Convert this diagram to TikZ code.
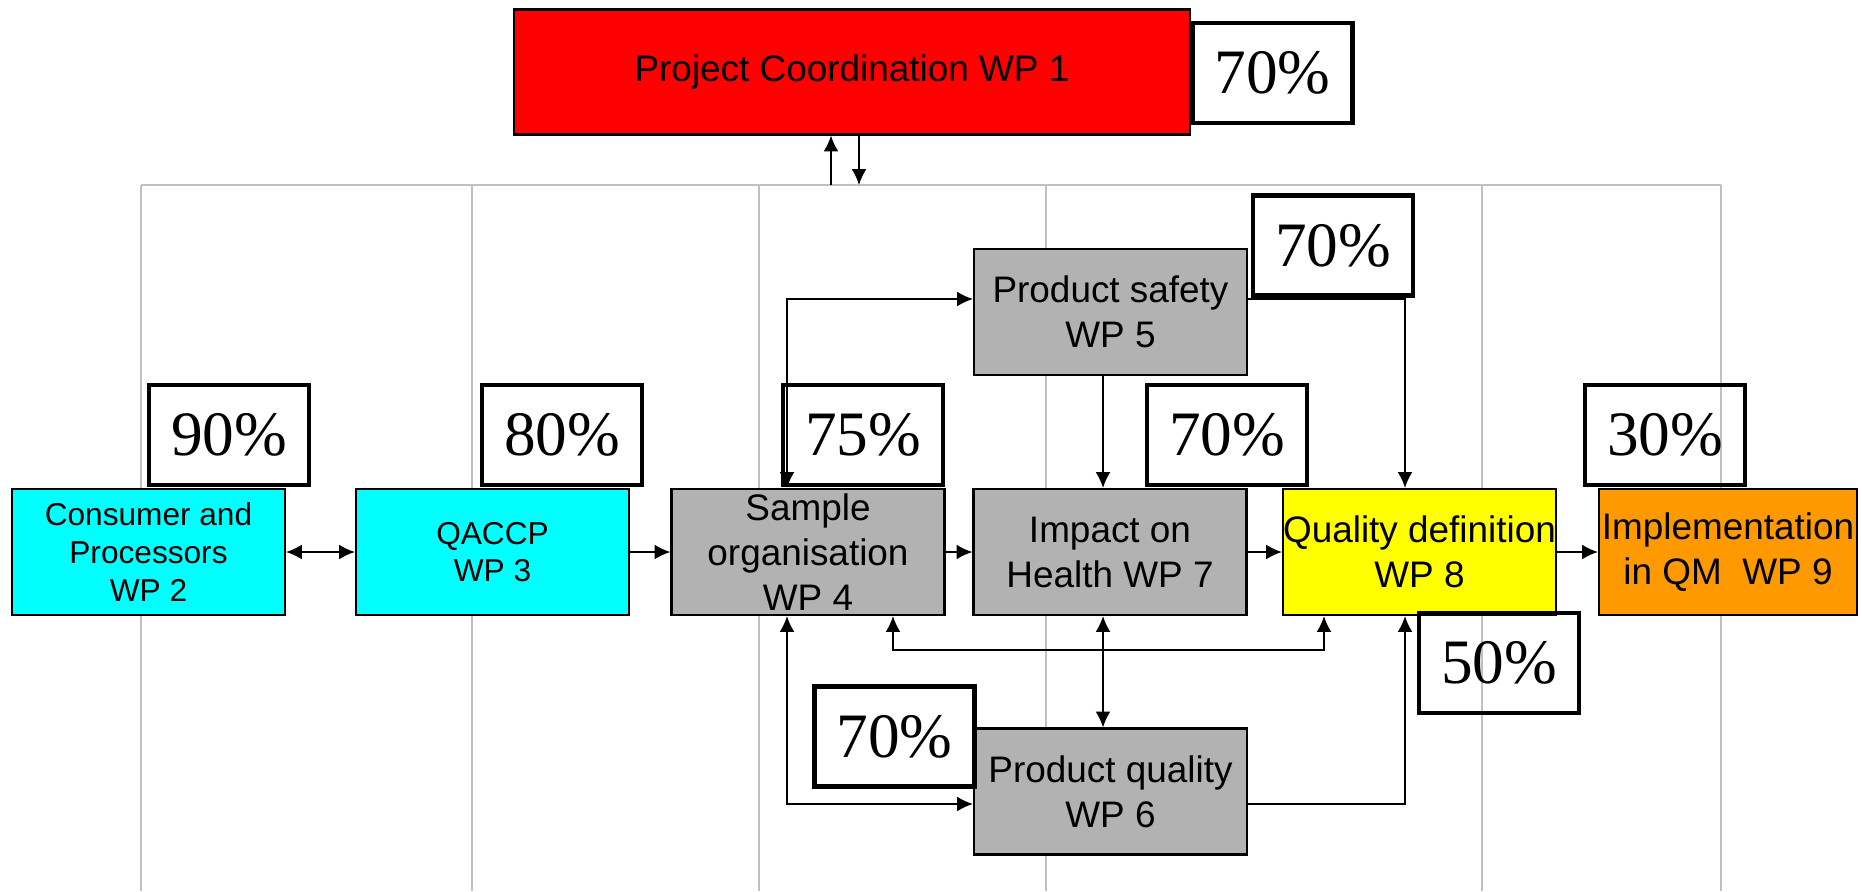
\documentclass[tikz,border=0pt]{standalone}
\usepackage{fontspec}
\setmainfont{Liberation Serif}
\newfontfamily\boxfont{Liberation Sans}
\usetikzlibrary{arrows.meta}
\definecolor{wpred}{RGB}{255,0,0}
\definecolor{wpcyan}{RGB}{0,255,255}
\definecolor{wpyellow}{RGB}{255,255,0}
\definecolor{wpgrey}{RGB}{178,178,178}
\definecolor{wporange}{RGB}{255,153,0}
\definecolor{lanegrey}{RGB}{192,192,192}

\begin{document}
\begin{tikzpicture}[>={Latex[length=4.5pt,width=4.2pt]},line width=0.45pt]
	\tikzstyle{box}=[rectangle,draw=black,line width=0.6pt,
	minimum width=2.73cm,minimum height=1.26cm,
	inner sep=0pt,align=center,
	font=\boxfont\fontsize{10.5}{12.8}\selectfont
	]
	\tikzstyle{cy}=[box, fill=wpcyan, font=\boxfont\fontsize{9}{10.7}\selectfont];
	\tikzstyle{gy}=[box, fill=wpgrey];
	\tikzstyle{pct}=[rectangle,draw=black,line width=1.3pt,
	minimum width=1.6cm,minimum height=1.0cm,inner sep=0pt,
	font=\fontsize{18}{20}\selectfont];
	\tikzstyle{lane}=[draw=lanegrey,line width=0.45pt];
\useasboundingbox (0,0) rectangle (18.62,8.91);

% grey lanes behind the boxes
\draw[lane] (1.41,7.06) -- (17.21,7.06);
\foreach \x in {1.41,4.72,7.59,10.46,14.82,17.21}
	\draw[lane] (\x,7.06) -- (\x,0);

\node[box,fill=wpred,minimum width=6.76cm,minimum height=1.25cm](wp1) at (8.52,8.19){Project Coordination WP 1};

\node[cy](wp2) at (1.485,3.39){Consumer and\\Processors\\WP 2};
\node[cy](wp3) at (4.925,3.39){QACCP\\WP 3};
\node[gy](wp4) at (8.08,3.39){Sample\\organisation\\WP 4};
\node[gy](wp5) at (11.105,5.79){Product safety\\WP 5};
\node[gy](wp6) at (11.105,0.995){Product quality\\WP 6};
\node[gy](wp7) at (11.10,3.39){Impact on\\Health WP 7};
\node[box,fill=wpyellow](wp8) at (14.195,3.39){Quality definition\\WP 8};
\node[box,fill=wporange,minimum width=2.58cm](wp9) at (17.28,3.39){Implementation\\in QM~~WP 9};

\node[pct](p1) at (12.725,8.18){70\%};
\node[pct](p2) at (2.29,4.56){90\%};
\node[pct](p3) at (5.62,4.56){80\%};
\node[pct](p4) at (8.63,4.56){75\%};
\node[pct](p5) at (13.33,6.455){70\%};
\node[pct](p6) at (8.945,1.545){70\%};
\node[pct](p7) at (12.27,4.56){70\%};
\node[pct](p8) at (14.99,2.28){50\%};
\node[pct](p9) at (16.65,4.56){30\%};

\coordinate (up) at (8.31,7.06);
\coordinate (dn) at (8.59,7.06);
\draw [->] (up) -- (up |- wp1.south);
\draw [->] (dn |- wp1.south) -- (dn);

\draw [<->] (wp2) -- (wp3);
\draw [->] (wp3) -- (wp4);
\draw [->] (wp4) -- (wp7);
\draw [->] (wp7) -- (wp8);
\draw [->] (wp8) -- (wp9);

\coordinate (a) at (7.87,5.92);
\coordinate (b) at (11.03,3.39);
\coordinate (c) at (14.05,5.92);
\coordinate (d) at (14.05,0.87);
\coordinate (e) at (7.87,0.87);
\coordinate (f) at (8.93,2.41);
\coordinate (g) at (13.24,2.41);
\draw [<->] (a |- wp4.north) |- (wp5.west |- a);
\draw [->] (b |- wp5.south) -- (b |- wp7.north);
\draw [<->] (b |- wp7.south) -- (b |- wp6.north);
\draw [->] (wp5.east |- c) -| (c |- wp8.north);
\draw [->] (wp6.east |- d) -| (d |- wp8.south);
\draw [<->] (e |- wp4.south) |- (wp6.west |- e);
\draw [<->] (f |- wp4.south) -- (f) -- (g) -- (g |- wp8.south);

\end{tikzpicture}
\end{document}
